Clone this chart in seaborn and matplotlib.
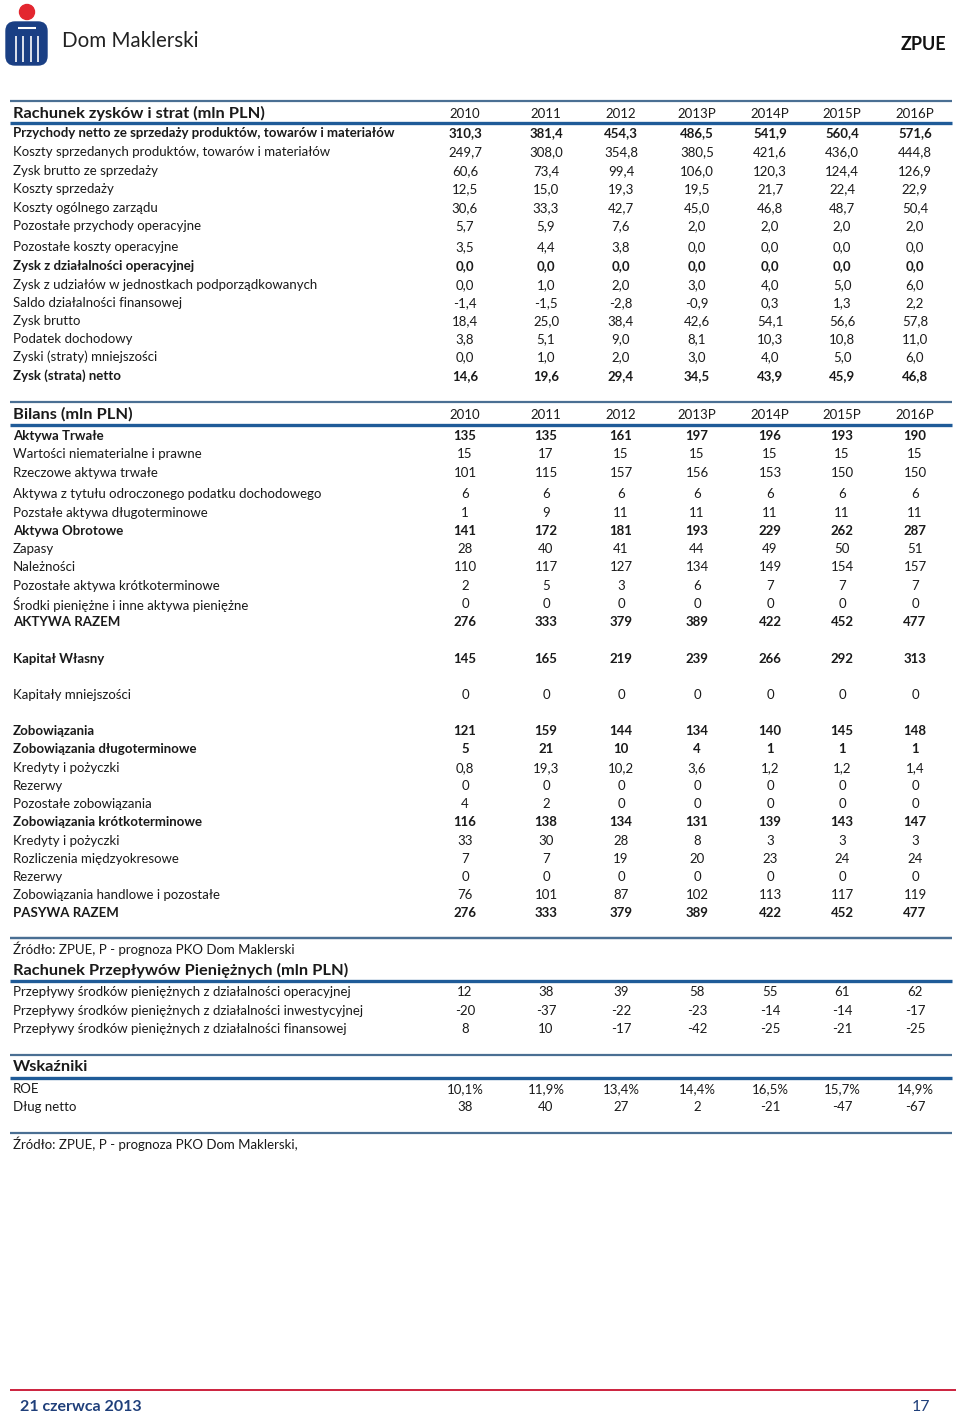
import matplotlib.pyplot as plt
import matplotlib.patches as mpatches
import seaborn as sns

sns.set_theme(style="white")
plt.rcParams['font.family'] = ['Lato', 'DejaVu Sans']

# --- dane ---
years = ['2010', '2011', '2012', '2013P', '2014P', '2015P', '2016P']

rzis_labels = [
    'Przychody netto ze sprzedaży produktów, towarów i materiałów',
    'Koszty sprzedanych produktów, towarów i materiałów',
    'Zysk brutto ze sprzedaży',
    'Koszty sprzedaży',
    'Koszty ogólnego zarządu',
    'Pozostałe przychody operacyjne',
    'Pozostałe koszty operacyjne',
    'Zysk z działalności operacyjnej',
    'Zysk z udziałów w jednostkach podporządkowanych',
    'Saldo działalności finansowej',
    'Zysk brutto',
    'Podatek dochodowy',
    'Zyski (straty) mniejszości',
    'Zysk (strata) netto',
]
rzis_bold = [1, 0, 0, 0, 0, 0, 0, 1, 0, 0, 0, 0, 0, 1]
rzis_values = [
    ['310,3', '381,4', '454,3', '486,5', '541,9', '560,4', '571,6'],
    ['249,7', '308,0', '354,8', '380,5', '421,6', '436,0', '444,8'],
    ['60,6', '73,4', '99,4', '106,0', '120,3', '124,4', '126,9'],
    ['12,5', '15,0', '19,3', '19,5', '21,7', '22,4', '22,9'],
    ['30,6', '33,3', '42,7', '45,0', '46,8', '48,7', '50,4'],
    ['5,7', '5,9', '7,6', '2,0', '2,0', '2,0', '2,0'],
    ['3,5', '4,4', '3,8', '0,0', '0,0', '0,0', '0,0'],
    ['0,0', '0,0', '0,0', '0,0', '0,0', '0,0', '0,0'],
    ['0,0', '1,0', '2,0', '3,0', '4,0', '5,0', '6,0'],
    ['-1,4', '-1,5', '-2,8', '-0,9', '0,3', '1,3', '2,2'],
    ['18,4', '25,0', '38,4', '42,6', '54,1', '56,6', '57,8'],
    ['3,8', '5,1', '9,0', '8,1', '10,3', '10,8', '11,0'],
    ['0,0', '1,0', '2,0', '3,0', '4,0', '5,0', '6,0'],
    ['14,6', '19,6', '29,4', '34,5', '43,9', '45,9', '46,8'],
]

bilans_labels = [
    'Aktywa Trwałe',
    'Wartości niematerialne i prawne',
    'Rzeczowe aktywa trwałe',
    'Aktywa z tytułu odroczonego podatku dochodowego',
    'Pozstałe aktywa długoterminowe',
    'Aktywa Obrotowe',
    'Zapasy',
    'Należności',
    'Pozostałe aktywa krótkoterminowe',
    'Środki pieniężne i inne aktywa pieniężne',
    'AKTYWA RAZEM',
    'Kapitał Własny',
    'Kapitały mniejszości',
    'Zobowiązania',
    'Zobowiązania długoterminowe',
    'Kredyty i pożyczki',
    'Rezerwy',
    'Pozostałe zobowiązania',
    'Zobowiązania krótkoterminowe',
    'Kredyty i pożyczki',
    'Rozliczenia międzyokresowe',
    'Rezerwy',
    'Zobowiązania handlowe i pozostałe',
    'PASYWA RAZEM',
]
bilans_bold = [1, 0, 0, 0, 0, 1, 0, 0, 0, 0, 1, 1, 0, 1, 1, 0, 0, 0, 1, 0, 0, 0, 0, 1]
bilans_values = [
    ['135', '135', '161', '197', '196', '193', '190'],
    ['15', '17', '15', '15', '15', '15', '15'],
    ['101', '115', '157', '156', '153', '150', '150'],
    ['6', '6', '6', '6', '6', '6', '6'],
    ['1', '9', '11', '11', '11', '11', '11'],
    ['141', '172', '181', '193', '229', '262', '287'],
    ['28', '40', '41', '44', '49', '50', '51'],
    ['110', '117', '127', '134', '149', '154', '157'],
    ['2', '5', '3', '6', '7', '7', '7'],
    ['0', '0', '0', '0', '0', '0', '0'],
    ['276', '333', '379', '389', '422', '452', '477'],
    ['145', '165', '219', '239', '266', '292', '313'],
    ['0', '0', '0', '0', '0', '0', '0'],
    ['121', '159', '144', '134', '140', '145', '148'],
    ['5', '21', '10', '4', '1', '1', '1'],
    ['0,8', '19,3', '10,2', '3,6', '1,2', '1,2', '1,4'],
    ['0', '0', '0', '0', '0', '0', '0'],
    ['4', '2', '0', '0', '0', '0', '0'],
    ['116', '138', '134', '131', '139', '143', '147'],
    ['33', '30', '28', '8', '3', '3', '3'],
    ['7', '7', '19', '20', '23', '24', '24'],
    ['0', '0', '0', '0', '0', '0', '0'],
    ['76', '101', '87', '102', '113', '117', '119'],
    ['276', '333', '379', '389', '422', '452', '477'],
]

cf_labels = [
    'Przepływy środków pieniężnych z działalności operacyjnej',
    'Przepływy środków pieniężnych z działalności inwestycyjnej',
    'Przepływy środków pieniężnych z działalności finansowej',
]
cf_values = [
    ['12', '38', '39', '58', '55', '61', '62'],
    ['-20', '-37', '-22', '-23', '-14', '-14', '-17'],
    ['8', '10', '-17', '-42', '-25', '-21', '-25'],
]

wsk_labels = ['ROE', 'Dług netto']
wsk_values = [
    ['10,1%', '11,9%', '13,4%', '14,4%', '16,5%', '15,7%', '14,9%'],
    ['38', '40', '27', '2', '-21', '-47', '-67'],
]

# --- układ strony (piksele) ---
col_x = [465, 546, 621, 697, 770, 842, 915]
rzis_y = [133, 152, 171, 189, 208, 226, 247, 266, 285, 303, 321, 339, 357, 376]
bilans_y = [436, 454, 473, 494, 513, 531, 549, 567, 586, 604, 622, 659, 695,
            731, 749, 768, 786, 804, 822, 841, 859, 877, 895, 913]
cf_y = [992, 1011, 1029]
wsk_y = [1089, 1107]

TXT = '#1a1a1a'
THIN = '#4a6f93'
THICK = '#1f5b98'
FS = 9.5

fig = plt.figure(figsize=(9.6, 14.19), dpi=100)
ax = fig.add_axes([0, 0, 1, 1])
ax.set_xlim(0, 960)
ax.set_ylim(1419, 0)
ax.axis('off')


def section(title, y_top, y_head, y_line, show_years=True, title_fs=11.8):
    ax.hlines(y_top, 10, 952, color=THIN, lw=1.6)
    ax.text(13, y_head, title, fontsize=title_fs, fontweight='bold',
            color=TXT, va='center', ha='left')
    if show_years:
        for x, yr in zip(col_x, years):
            ax.text(x, y_head + 1, yr, fontsize=FS, color=TXT, va='center', ha='center')
    ax.hlines(y_line, 10, 952, color=THICK, lw=2.4)


def rows(labels, values, ys, bold=None):
    for i, (lab, vals, y) in enumerate(zip(labels, values, ys)):
        fw = 'bold' if bold is not None and bold[i] else 'normal'
        ax.text(13, y, lab, fontsize=FS, fontweight=fw, color=TXT, va='center', ha='left')
        for x, v in zip(col_x, vals):
            ax.text(x, y, v, fontsize=FS, fontweight=fw, color=TXT, va='center', ha='center')


section('Rachunek zysków i strat (mln PLN)', 101, 113, 123)
rows(rzis_labels, rzis_values, rzis_y, rzis_bold)

section('Bilans (mln PLN)', 402, 414, 425)
rows(bilans_labels, bilans_values, bilans_y, bilans_bold)

ax.hlines(938, 10, 952, color=THIN, lw=1.6)
ax.text(13, 949, 'Źródło: ZPUE, P - prognoza PKO Dom Maklerski', fontsize=FS,
        color=TXT, va='center', ha='left')
section('Rachunek Przepływów Pieniężnych (mln PLN)', 938, 970, 981, show_years=False)
rows(cf_labels, cf_values, cf_y)

section('Wskaźniki', 1055, 1067, 1078, show_years=False)
rows(wsk_labels, wsk_values, wsk_y)

ax.hlines(1133, 10, 952, color=THIN, lw=1.6)
ax.text(13, 1144, 'Źródło: ZPUE, P - prognoza PKO Dom Maklerski,', fontsize=FS,
        color=TXT, va='center', ha='left')

# --- nagłówek: logo PKO ---
ax.add_patch(mpatches.Circle((27, 12), 7.5, color='#e3262f'))
ax.add_patch(mpatches.FancyBboxPatch((6, 22), 41, 43, boxstyle='round,pad=0,rounding_size=9',
                                     color='#1a3f84'))
ax.hlines(28, 18, 36, color='white', lw=1.5)
ax.vlines([16, 23, 31, 38], 36, 62, color='white', lw=1.2)
ax.text(62, 41, 'Dom Maklerski', fontsize=14.8, color='#222222', va='center', ha='left')
ax.text(946, 44, 'ZPUE', fontsize=13, fontweight='bold', color='#111111', va='center', ha='right')

# --- stopka ---
ax.hlines(1390, 10, 956, color='#c8102e', lw=1.3)
ax.text(20, 1407, '21 czerwca 2013', fontsize=11.5, fontweight='bold', color='#1f3f7a',
        va='center', ha='left')
ax.text(930, 1407, '17', fontsize=11.5, color='#1f3f7a', va='center', ha='right')

fig.savefig('out.png', dpi=100)
plt.close(fig)
